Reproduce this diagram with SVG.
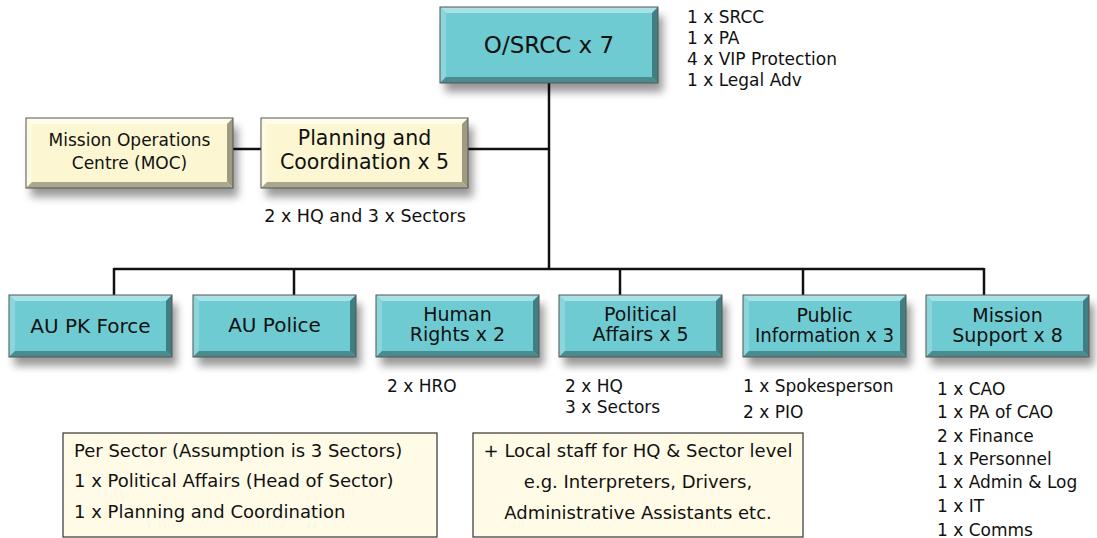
<svg xmlns="http://www.w3.org/2000/svg" width="1097" height="538" viewBox="0 0 1097 538">
<style>
.t{font-family:"DejaVu Sans",sans-serif;fill:#111}
.lab{font-size:20px;text-anchor:middle}
.lab2{font-size:19px;text-anchor:middle}
.note{font-size:17px}
.nb{font-size:18px}
.face{fill:#6fcbd2}
.tp{fill:#a9e2e6}
.lf{fill:#8ad6db}
.rt{fill:#3f7f82}
.bt{fill:#4b8a8d}
.cface{fill:#fcf7d2}
.ctp{fill:#fffce9}
.clf{fill:#fefae2}
.crt{fill:#9f9b80}
.cbt{fill:#aba78d}
.ol{fill:none;stroke:#555;stroke-width:1}
.sh{fill:#000;opacity:0.4;filter:url(#blur)}
.conn{stroke:#111;stroke-width:2.5;fill:none}
.nbox{fill:#fffbe6;stroke:#333;stroke-width:1.2}
</style>
<defs>
<filter id="blur" x="-20%" y="-40%" width="140%" height="180%"><feGaussianBlur stdDeviation="4"/></filter>
<g id="bbox">
<rect class="sh" x="5" y="9" width="163" height="62"/>
<rect class="face" x="0" y="0" width="163" height="62"/>
<polygon class="tp" points="0,0 163,0 157,6 6,6"/>
<polygon class="lf" points="0,0 6,6 6,56 0,62"/>
<polygon class="rt" points="163,0 163,62 157,56 157,6"/>
<polygon class="bt" points="0,62 6,56 157,56 163,62"/>
<rect class="ol" x="0" y="0" width="163" height="62"/>
</g>
<g id="cbox">
<rect class="sh" x="5" y="9" width="207" height="70"/>
<rect class="cface" x="0" y="0" width="207" height="70"/>
<polygon class="ctp" points="0,0 207,0 201,6 6,6"/>
<polygon class="clf" points="0,0 6,6 6,64 0,70"/>
<polygon class="crt" points="207,0 207,70 201,64 201,6"/>
<polygon class="cbt" points="0,70 6,64 201,64 207,70"/>
<rect class="ol" x="0" y="0" width="207" height="70"/>
</g>
</defs>
<rect width="1097" height="538" fill="#fff"/>

<g id="connectors">
<line class="conn" x1="549" y1="83" x2="549" y2="269"/>
<line class="conn" x1="468" y1="149" x2="549" y2="149"/>
<line class="conn" x1="233" y1="149" x2="261" y2="149"/>
<line class="conn" x1="114" y1="269" x2="984" y2="269"/>
<line class="conn" x1="114" y1="268" x2="114" y2="295"/>
<line class="conn" x1="294" y1="268" x2="294" y2="295"/>
<line class="conn" x1="620" y1="268" x2="620" y2="295"/>
<line class="conn" x1="803" y1="268" x2="803" y2="295"/>
<line class="conn" x1="984" y1="268" x2="984" y2="295"/>
</g>

<g id="osrcc">
<rect class="sh" x="445" y="16" width="218" height="76"/>
<rect class="face" x="440" y="7" width="218" height="76"/>
<polygon class="tp" points="440,7 658,7 652,13 446,13"/>
<polygon class="lf" points="440,7 446,13 446,77 440,83"/>
<polygon class="rt" points="658,7 658,83 652,77 652,13"/>
<polygon class="bt" points="440,83 446,77 652,77 658,83"/>
<rect class="ol" x="440" y="7" width="218" height="76"/>
<text class="t" x="549" y="53" font-size="23" text-anchor="middle">O/SRCC x 7</text>
<text class="t note" x="687" y="23">1 x SRCC</text>
<text class="t note" x="687" y="44">1 x PA</text>
<text class="t note" x="687" y="65">4 x VIP Protection</text>
<text class="t note" x="687" y="86">1 x Legal Adv</text>
</g>

<g id="moc" transform="translate(26,118)">
<use href="#cbox"/>
<text class="t" x="103.5" y="28" font-size="17" text-anchor="middle">Mission Operations</text>
<text class="t" x="103.5" y="51" font-size="17" text-anchor="middle">Centre (MOC)</text>
</g>

<g id="planning" transform="translate(261,118)">
<use href="#cbox"/>
<text class="t" x="103.5" y="27" font-size="20.5" text-anchor="middle">Planning and</text>
<text class="t" x="103.5" y="51" font-size="20.5" text-anchor="middle">Coordination x 5</text>
<text class="t" x="104" y="104" font-size="17.5" text-anchor="middle">2 x HQ and 3 x Sectors</text>
</g>

<g id="aupk" transform="translate(9,295)">
<use href="#bbox"/>
<text class="t lab" x="81.5" y="37.5">AU PK Force</text>
</g>

<g id="aupolice" transform="translate(193,295)">
<use href="#bbox"/>
<text class="t lab" x="81.5" y="37">AU Police</text>
</g>

<g id="humanrights" transform="translate(376,295)">
<use href="#bbox"/>
<text class="t lab2" x="81.5" y="26">Human</text>
<text class="t lab2" x="81.5" y="46">Rights x 2</text>
<text class="t note" x="11" y="97">2 x HRO</text>
</g>

<g id="political" transform="translate(559,295)">
<use href="#bbox"/>
<text class="t lab2" x="81.5" y="26">Political</text>
<text class="t lab2" x="81.5" y="46">Affairs x 5</text>
<text class="t note" x="6" y="97">2 x HQ</text>
<text class="t note" x="6" y="118">3 x Sectors</text>
</g>

<g id="publicinfo" transform="translate(743,295)">
<use href="#bbox"/>
<text class="t lab2" x="81.5" y="27">Public</text>
<text class="t lab2" x="81.5" y="47" textLength="139" lengthAdjust="spacingAndGlyphs">Information x 3</text>
<text class="t note" x="0" y="97">1 x Spokesperson</text>
<text class="t note" x="0" y="123">2 x PIO</text>
</g>

<g id="missionsupport" transform="translate(926,295)">
<use href="#bbox"/>
<text class="t lab2" x="81.5" y="27">Mission</text>
<text class="t lab2" x="81.5" y="47">Support x 8</text>
<text class="t note" x="11" y="100">1 x CAO</text>
<text class="t note" x="11" y="123">1 x PA of CAO</text>
<text class="t note" x="11" y="147">2 x Finance</text>
<text class="t note" x="11" y="170">1 x Personnel</text>
<text class="t note" x="11" y="193">1 x Admin &amp; Log</text>
<text class="t note" x="11" y="217">1 x IT</text>
<text class="t note" x="11" y="241">1 x Comms</text>
</g>

<g id="note-sector">
<rect class="nbox" x="63" y="433" width="374" height="104"/>
<text class="t nb" x="74" y="457">Per Sector (Assumption is 3 Sectors)</text>
<text class="t nb" x="74" y="487">1 x Political Affairs (Head of Sector)</text>
<text class="t nb" x="74" y="518">1 x Planning and Coordination</text>
</g>

<g id="note-local">
<rect class="nbox" x="473" y="433" width="330" height="104"/>
<text class="t nb" x="638" y="457" text-anchor="middle">+ Local staff for HQ &amp; Sector level</text>
<text class="t nb" x="638" y="488" text-anchor="middle">e.g. Interpreters, Drivers,</text>
<text class="t nb" x="638" y="519" text-anchor="middle">Administrative Assistants etc.</text>
</g>
</svg>
